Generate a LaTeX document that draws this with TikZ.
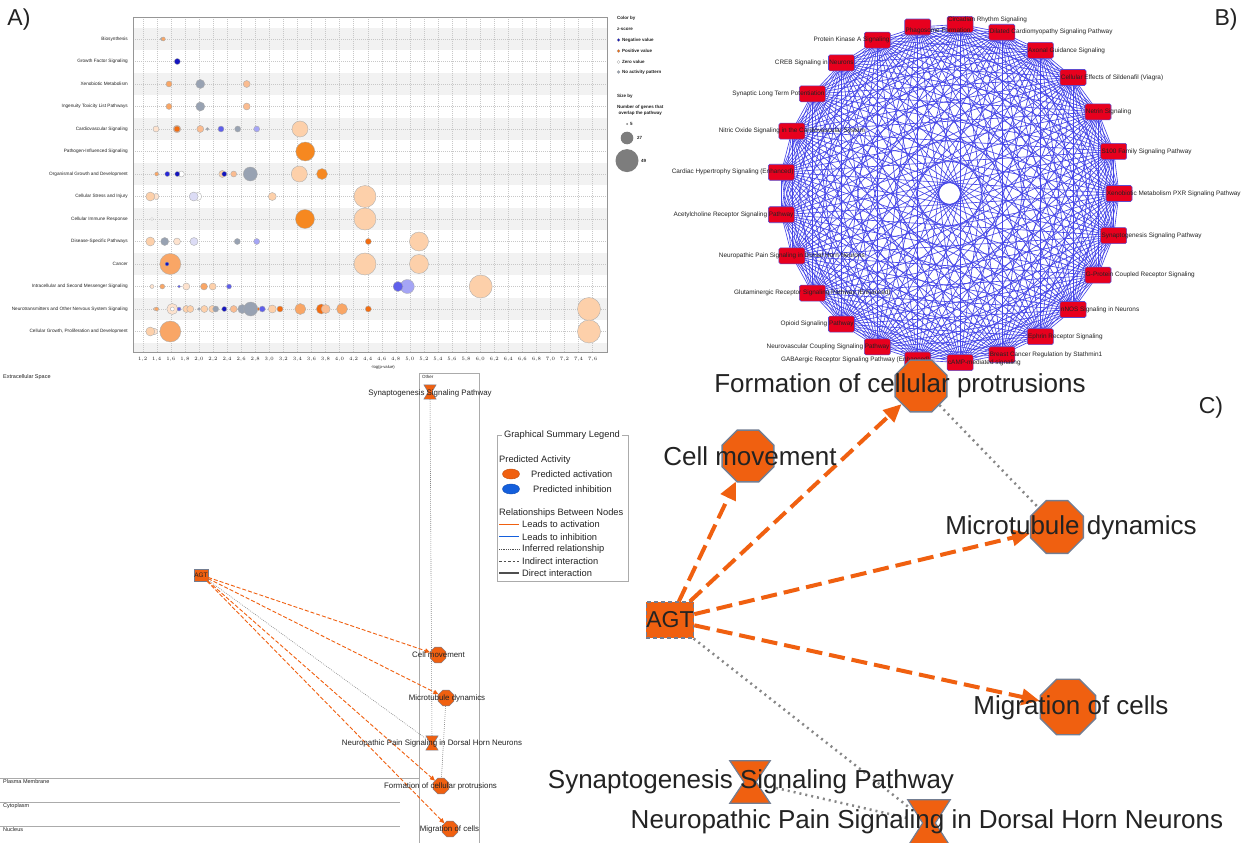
\documentclass[tikz,border=0pt]{standalone}
\usepackage{fontspec}
\setmainfont{Liberation Sans}
\usepackage{xcolor}
\usepackage{tikz}
\usetikzlibrary{arrows.meta,positioning,shapes.geometric,calc}
\definecolor{bandgray}{RGB}{242,242,242}
\definecolor{gridgray}{RGB}{200,200,200}
\definecolor{axisgray}{RGB}{150,150,150}
\definecolor{apale}{RGB}{253,226,206}
\definecolor{apeach}{RGB}{253,208,170}
\definecolor{alight}{RGB}{250,188,145}
\definecolor{amid}{RGB}{249,166,102}
\definecolor{aorange}{RGB}{246,136,32}
\definecolor{adark}{RGB}{242,108,16}
\definecolor{adblue}{RGB}{20,20,190}
\definecolor{ablue}{RGB}{40,40,215}
\definecolor{ambl}{RGB}{95,95,235}
\definecolor{albl}{RGB}{165,165,245}
\definecolor{alav}{RGB}{220,220,245}
\definecolor{agray}{RGB}{152,162,178}
\definecolor{sizegray}{RGB}{125,125,125}
\definecolor{netblue}{RGB}{70,70,232}
\definecolor{netred}{RGB}{232,0,30}
\definecolor{netedge}{RGB}{95,75,205}
\definecolor{ipaorange}{RGB}{240,96,16}
\definecolor{ipaedge}{RGB}{115,125,145}
\definecolor{ipablue}{RGB}{20,95,220}
\definecolor{ipadot}{RGB}{135,135,135}
\definecolor{inkgray}{RGB}{35,35,35}

\newcommand\hourglass[2][]{%
  \filldraw[hgshape,#1] (#2.north west) -- (#2.north east)
    -- ($(#2.center)!0.3!(#2.east)$) -- (#2.south east)
    -- (#2.south west) -- ($(#2.center)!0.3!(#2.west)$) -- cycle;}

\newcommand\pathlist{Xenobiotic Metabolism PXR Signaling Pathway/west/0,
  Synaptogenesis Signaling Pathway/west/0,
  G-Protein Coupled Receptor Signaling/west/0,
  nNOS Signaling in Neurons/west/0,
  Ephrin Receptor Signaling/west/0,
  Breast Cancer Regulation by Stathmin1/west/0,
  cAMP-mediated signaling/west/0,
  GABAergic Receptor Signaling Pathway (Enhanced)/east/0,
  Neurovascular Coupling Signaling Pathway/east/0,
  Opioid Signaling Pathway/east/0,
  Glutaminergic Receptor Signaling Pathway (Enhanced)/center/0,
  Neuropathic Pain Signaling in Dorsal Horn Neurons/center/0,
  Acetylcholine Receptor Signaling Pathway/east/0,
  Cardiac Hypertrophy Signaling (Enhanced)/east/0,
  Nitric Oxide Signaling in the Cardiovascular System/center/0,
  Synaptic Long Term Potentiation/east/0,
  CREB Signaling in Neurons/east/0,
  Protein Kinase A Signaling/east/0,
  Phagosome Formation/west/3.5,
  Circadian Rhythm Signaling/west/-4.5,
  Dilated Cardiomyopathy Signaling Pathway/west/0,
  Axonal Guidance Signaling/west/0,
  Cellular Effects of Sildenafil (Viagra)/west/0,
  Netrin Signaling/west/0,
  S100 Family Signaling Pathway/west/0}

\begin{document}
\begin{tikzpicture}[x=1pt, y=-1pt,
  panel/.style={font={\fontsize{23}{26}\selectfont}, text=inkgray, inner sep=0pt},
  rowlab/.style={anchor=east, font={\fontsize{4.7}{5}\selectfont}, text=inkgray, inner sep=0pt},
  ticklab/.style={font={\fontsize{4.2}{5}\selectfont}, text=inkgray, inner sep=0pt},
  keytxt/.style={anchor=west, font={\bfseries\fontsize{4.5}{6}\selectfont}, text=inkgray, inner sep=0pt},
  bubble/.style={draw=axisgray!80, line width=0.35pt},
  bedge/.style={draw=netblue, line width=0.65pt},
  pathbox/.style={draw=netedge, fill=netred, rounded corners=1.5pt, minimum width=26pt,
    minimum height=16pt, inner sep=0pt, line width=0.6pt},
  blab/.style={font={\fontsize{6.4}{7}\selectfont}, text=inkgray, inner sep=1pt},
  loct/.style={regular polygon, regular polygon sides=8, minimum size=17pt, inner sep=0pt,
    fill=ipaorange, draw=ipaedge, line width=0.4pt},
  lhg/.style={minimum width=12pt, minimum height=14pt, inner sep=0pt},
  lmol/.style={rectangle, minimum width=14pt, minimum height=12pt, inner sep=0pt,
    fill=ipaorange, draw=ipaedge, line width=0.4pt},
  llab/.style={font={\fontsize{7.9}{9}\selectfont}, text=inkgray, inner sep=0pt},
  zone/.style={draw=axisgray!80, line width=0.6pt},
  zonelab/.style={anchor=west, font={\fontsize{5.5}{6}\selectfont}, text=inkgray, inner sep=0pt},
  lact/.style={draw=ipaorange, line width=0.9pt, dash pattern=on 4pt off 2pt,
    -{Triangle[length=5pt,width=4.5pt]}},
  linf/.style={draw=ipadot, line width=0.6pt, dash pattern=on 0.8pt off 1.2pt},
  legtxt/.style={anchor=west, font={\fontsize{9.3}{10}\selectfont}, text=inkgray, inner sep=0pt},
  keyact/.style={draw=ipaorange, line width=1.3pt},
  keyinh/.style={draw=ipablue, line width=1.3pt},
  keyinf/.style={draw=inkgray!80, line width=1pt, dash pattern=on 0.8pt off 1pt},
  keyind/.style={draw=inkgray!80, line width=1pt, dash pattern=on 2.5pt off 2pt},
  keydir/.style={draw=inkgray!80, line width=1.3pt},
  coct/.style={regular polygon, regular polygon sides=8, inner sep=0pt,
    fill=ipaorange, draw=ipaedge, line width=1.4pt},
  cmol/.style={rectangle, minimum width=46pt, minimum height=36pt, inner sep=0pt,
    fill=ipaorange, draw=ipaedge, line width=1.2pt, dash pattern=on 4pt off 3pt,
    font={\fontsize{23}{26}\selectfont}, text=inkgray},
  chg/.style={minimum width=40pt, minimum height=42pt, inner sep=0pt},
  clab/.style={font={\fontsize{26}{28}\selectfont}, text=inkgray, inner sep=0pt},
  cact/.style={draw=ipaorange, line width=4pt, dash pattern=on 16pt off 7pt,
    -{Triangle[length=18pt,width=16pt]}},
  cinf/.style={draw=ipadot, line width=2.5pt, dash pattern=on 2pt off 4pt},
  hgshape/.style={fill=ipaorange, draw=ipaedge, line width=0.4pt}
]
\useasboundingbox (0,0) rectangle (1254,843);
\fill[white] (0,0) rectangle (1254,843);

% Panel A: bubble chart of pathway categories.
\node[panel] (tagA) at (19,20) {A)};
\foreach \i in {0,2,...,12}
  \fill[bandgray] (133,{27.75+22.5*\i}) rectangle (607,{50.25+22.5*\i});
\fill[bandgray] (133,342.75) rectangle (607,352);
\foreach \k in {0,...,32}
  \draw[gridgray, line width=0.3pt, dash pattern=on 1pt off 1pt]
    ({142.7+14.06*\k},17) -- ({142.7+14.06*\k},352);
\foreach \i in {0,...,13}
  \draw[gridgray, line width=0.3pt, dash pattern=on 1pt off 1pt]
    (133,{39+22.5*\i}) -- (607,{39+22.5*\i});
\draw[axisgray, line width=0.4pt] (133,17) rectangle (607,352);
\draw[axisgray, line width=1pt] (133,17) -- (133,352) -- (607,352);

\foreach \lab [count=\n from 0] in {Biosynthesis, Growth Factor Signaling,
    Xenobiotic Metabolism, Ingenuity Toxicity List Pathways, Cardiovascular Signaling,
    Pathogen-Influenced Signaling, Organismal Growth and Development,
    Cellular Stress and Injury, Cellular Immune Response, Disease-Specific Pathways,
    Cancer, Intracellular and Second Messenger Signaling,
    Neurotransmitters and Other Nervous System Signaling,
    {Cellular Growth, Proliferation and Development}}
  \node[rowlab] (row\n) at (128,{39+22.5*\n}) {\lab};

\foreach \k in {0,...,32} {
  \pgfmathsetmacro\tv{1.2+0.2*\k}
  \node[ticklab] (tick\k) at ({142.7+14.06*\k},359)
    {\pgfmathprintnumber[fixed,fixed zerofill,precision=1,use comma]{\tv}};
}
\node[ticklab] (xlab) at (383,367) {-log(p-value)};

\foreach \bx/\by/\br/\bc in {
    161.7/0/1.5/agray, 163.3/0/2/amid,
    177.3/1/3/adblue,
    169/2/3/amid, 200.3/2/4.5/agray, 246.7/2/3.5/alight,
    169/3/3/amid, 200.3/3/4.5/agray, 246.7/3/3.5/alight,
    156/4/3/apale, 177/4/3.8/alight, 177/4/3/adark, 200.3/4/3.5/alight, 207.3/4/1.5/agray,
    221/4/3/ambl, 237.7/4/3/agray, 256.7/4/3/albl, 300/4/8/apeach,
    305.3/5/9.5/aorange,
    156.7/6/2/amid, 167.3/6/2.5/ablue, 181.3/6/3/white, 177.3/6/2.5/adblue,
    222.3/6/3.5/apeach, 224.3/6/2.5/adblue, 233.7/6/3/alight, 250.3/6/7/agray,
    299.3/6/8/apeach, 322/6/5.5/aorange,
    156/7/3/apale, 150.3/7/4.5/apeach, 197.7/7/4/white, 193.7/7/4.5/alav,
    272.3/7/4/apeach, 365/7/11/apeach,
    152/8/1.5/white, 305/8/9.5/aorange, 365/8/11/apeach,
    150.3/9/4.5/apeach, 164.7/9/4/agray, 177/9/3.5/apale, 194/9/4/alav,
    237.3/9/3/agray, 256.7/9/3/albl, 368.3/9/3/adark, 419/9/9.5/apeach,
    170.3/10/10.5/amid, 167/10/2/adblue, 365/10/11/apeach, 419/10/9.5/apeach,
    152/11/2/apale, 162.3/11/2.5/amid, 179/11/1.5/ambl, 186.3/11/3.5/apale,
    204/11/3.5/amid, 212.7/11/3.5/apeach, 229/11/2.5/ambl, 407.3/11/7/albl,
    398/11/5/ambl, 480.7/11/11.5/apeach,
    154.7/12/1.5/apeach, 156.7/12/2/amid, 172.3/12/5.5/apale, 172.3/12/2/white,
    179/12/2/ambl, 186.3/12/3.5/apeach, 190.3/12/3.5/apeach, 199/12/1.5/agray,
    204.3/12/3.5/apeach, 212.3/12/3.5/apeach, 215.7/12/3/agray, 224.3/12/2.5/adblue,
    233.7/12/3.5/alight, 242.3/12/4.5/agray, 250.7/12/7/agray, 258.3/12/1.5/adark,
    262.3/12/3/ambl, 272.3/12/4/apeach, 280/12/3/adark, 300.3/12/5.5/amid,
    321.3/12/5/adark, 325.7/12/4.5/alight, 342/12/5.5/amid, 368.3/12/3/adark,
    589/12/11.5/apeach,
    154.7/13/3/apale, 150.3/13/4.5/apeach, 170.3/13/10.5/amid, 589/13/11.5/apeach}
  \filldraw[bubble, fill=\bc] (\bx,{39+22.5*\by}) circle[radius=\br pt];

% Colour and size key.
\node[keytxt] (colby) at (617,18) {Color by};
\node[keytxt] (zscore) at (617,29) {z-score};
\foreach \yy/\cc/\txt [count=\n] in {40/adblue/Negative value, 51/adark/Positive value,
    62/white/Zero value, 72/agray/No activity pattern} {
  \filldraw[draw=axisgray, line width=0.3pt, fill=\cc] (618.5,\yy) circle[radius=1.5pt];
  \node[keytxt] (key\n) at (622,\yy) {\txt};
}
\node[keytxt] (sizeby) at (617,96) {Size by};
\begin{scope}
  \clip (610,100) rectangle (667,118);
  \node[keytxt, align=center] (ngenes) at (617,110) {Number of genes that\\overlap the pathway};
\end{scope}
\fill[sizegray] (627,124) circle[radius=1pt];
\node[keytxt] (size5) at (630,124) {5};
\fill[sizegray] (627,138) circle[radius=6.3pt];
\node[keytxt] (size27) at (637,138) {27};
\fill[sizegray] (627,160.6) circle[radius=11.5pt];
\node[keytxt] (size49) at (641,160.6) {49};

% Panel B: overlap network of canonical pathways.
\node[panel] (tagB) at (1226,20) {B)};
\foreach \k in {0,...,24}
  \coordinate (p\k) at ({949.5+169.5*cos(14.4*\k)},{193.5+169.5*sin(14.4*\k)});
\foreach \i in {0,...,23} {
  \pgfmathtruncatemacro\nxt{\i+1}
  \foreach \j in {\nxt,...,24}
    \draw[bedge] (p\i) -- (p\j);
}
\foreach \lab/\side/\dy [count=\k from 0] in \pathlist
  \node[pathbox] (b\k) at (p\k) {};
\foreach \lab/\side/\dy [count=\k from 0] in \pathlist
  \node[blab, anchor=\side, yshift=-\dy pt] (bl\k) at (b\k.\side) {\lab};

% Graphical summary, cellular layout.
\node[zonelab] (zext) at (3,377) {Extracellular Space};
\node[zonelab] (zpm) at (3,782) {Plasma Membrane};
\node[zonelab] (zcyt) at (3,806) {Cytoplasm};
\node[zonelab] (znuc) at (3,830) {Nucleus};
\node[zonelab, font={\fontsize{4.5}{5}\selectfont}] (zoth) at (422,377) {Other};
\draw[zone] (0,778) -- (419,778);
\draw[zone] (0,802) -- (400,802);
\draw[zone] (0,826) -- (400,826);
\draw[zone] (419,845) -- (419,373) -- (479,373) -- (479,845);

\node[lhg] (lsyn) at (430,392) {};
\node[lmol] (lagt) at (201,575) {};
\node[loct] (lcm) at (438,655) {};
\node[loct] (lmt) at (446,698) {};
\node[lhg] (lnp) at (432,743) {};
\node[loct] (lfcp) at (441,786) {};
\node[loct] (lmig) at (450,829) {};
\hourglass{lsyn}
\hourglass{lnp}

\draw[linf] (lsyn) -- (lnp);
\draw[linf] (lmt) -- (lfcp);
\draw[linf] (lagt) -- (lnp);
\draw[lact] (lagt) -- (lcm);
\draw[lact] (lagt) -- (lmt);
\draw[lact] (lagt) -- (lfcp);
\draw[lact] (lagt) -- (lmig);

\node[llab] (llsyn) at (430,393) {Synaptogenesis Signaling Pathway};
\node[llab, font={\fontsize{6.5}{7}\selectfont}] (llagt) at (201,575) {AGT};
\node[llab] (llcm) at (438.5,655) {Cell movement};
\node[llab] (llmt) at (447,698) {Microtubule dynamics};
\node[llab] (llnp) at (432,743) {Neuropathic Pain Signaling in Dorsal Horn Neurons};
\node[llab] (llfcp) at (440.5,786) {Formation of cellular protrusions};
\node[llab] (llmig) at (449.5,829) {Migration of cells};

% Legend of the graphical summary.
\draw[zone, line width=0.8pt] (497,435) rectangle (628,581);
\node[legtxt, anchor=center, fill=white, inner xsep=2pt] (legtitle) at (562,435) {Graphical Summary Legend};
\node[legtxt] (legpa) at (499,460) {Predicted Activity};
\node[ellipse, fill=ipaorange, draw=ipaorange!80!black, line width=0.4pt, minimum width=17pt,
  minimum height=10pt, inner sep=0pt] (legup) at (511,474) {};
\node[legtxt] (leguptxt) at (531,474) {Predicted activation};
\node[ellipse, fill=ipablue, draw=ipablue!80!black, line width=0.4pt, minimum width=17pt,
  minimum height=10pt, inner sep=0pt] (legdown) at (511,489) {};
\node[legtxt] (legdowntxt) at (533,489) {Predicted inhibition};
\node[legtxt] (legrel) at (499,512.7) {Relationships Between Nodes};
\foreach \yy/\sty/\txt [count=\n] in {524.3/keyact/Leads to activation,
    536.7/keyinh/Leads to inhibition, 549/keyinf/Inferred relationship,
    561/keyind/Indirect interaction, 573/keydir/Direct interaction} {
  \coordinate (ks\n) at (499,\yy);
  \coordinate (ke\n) at (519,\yy);
  \draw[\sty] (ks\n) -- (ke\n);
  \node[legtxt] (kt\n) at (522,\yy) {\txt};
}

% Panel C: enlarged network around AGT.
\node[panel] (tagC) at (1211,408) {C)};
\node[coct, minimum size=56pt] (cfcp) at (921,386) {};
\node[coct, minimum size=56pt] (ccm) at (748,456) {};
\node[coct, minimum size=57pt] (cmt) at (1057,527) {};
\node[coct, minimum size=60pt] (cmig) at (1068,707) {};
\node[chg] (csyn) at (750,782) {};
\node[chg, minimum width=42pt, minimum height=46pt] (cnp) at (929,823) {};
\hourglass[line width=1.2pt]{csyn}
\hourglass[line width=1.2pt]{cnp}

\draw[cinf] (cfcp) -- (cmt);
\draw[cinf] (csyn) -- (cnp);
\node[cmol] (cagt) at (670,620) {AGT};
\draw[cinf] (cagt) -- (cnp);
\draw[cact] (cagt) -- (ccm);
\draw[cact] (cagt) -- (cfcp);
\draw[cact] (cagt) -- (cmt);
\draw[cact] (cagt) -- (cmig);

\node[clab] (lbfcp) at (900,386) {Formation of cellular protrusions};
\node[clab] (lbcm) at (750,456) {Cell movement};
\node[clab] (lbmt) at (1071,528) {Microtubule dynamics};
\node[clab] (lbmig) at (1071,708) {Migration of cells};
\node[clab] (lbsyn) at (751,782) {Synaptogenesis Signaling Pathway};
\node[clab] (lbnp) at (927,822) {Neuropathic Pain Signaling in Dorsal Horn Neurons};

\end{tikzpicture}
\end{document}
